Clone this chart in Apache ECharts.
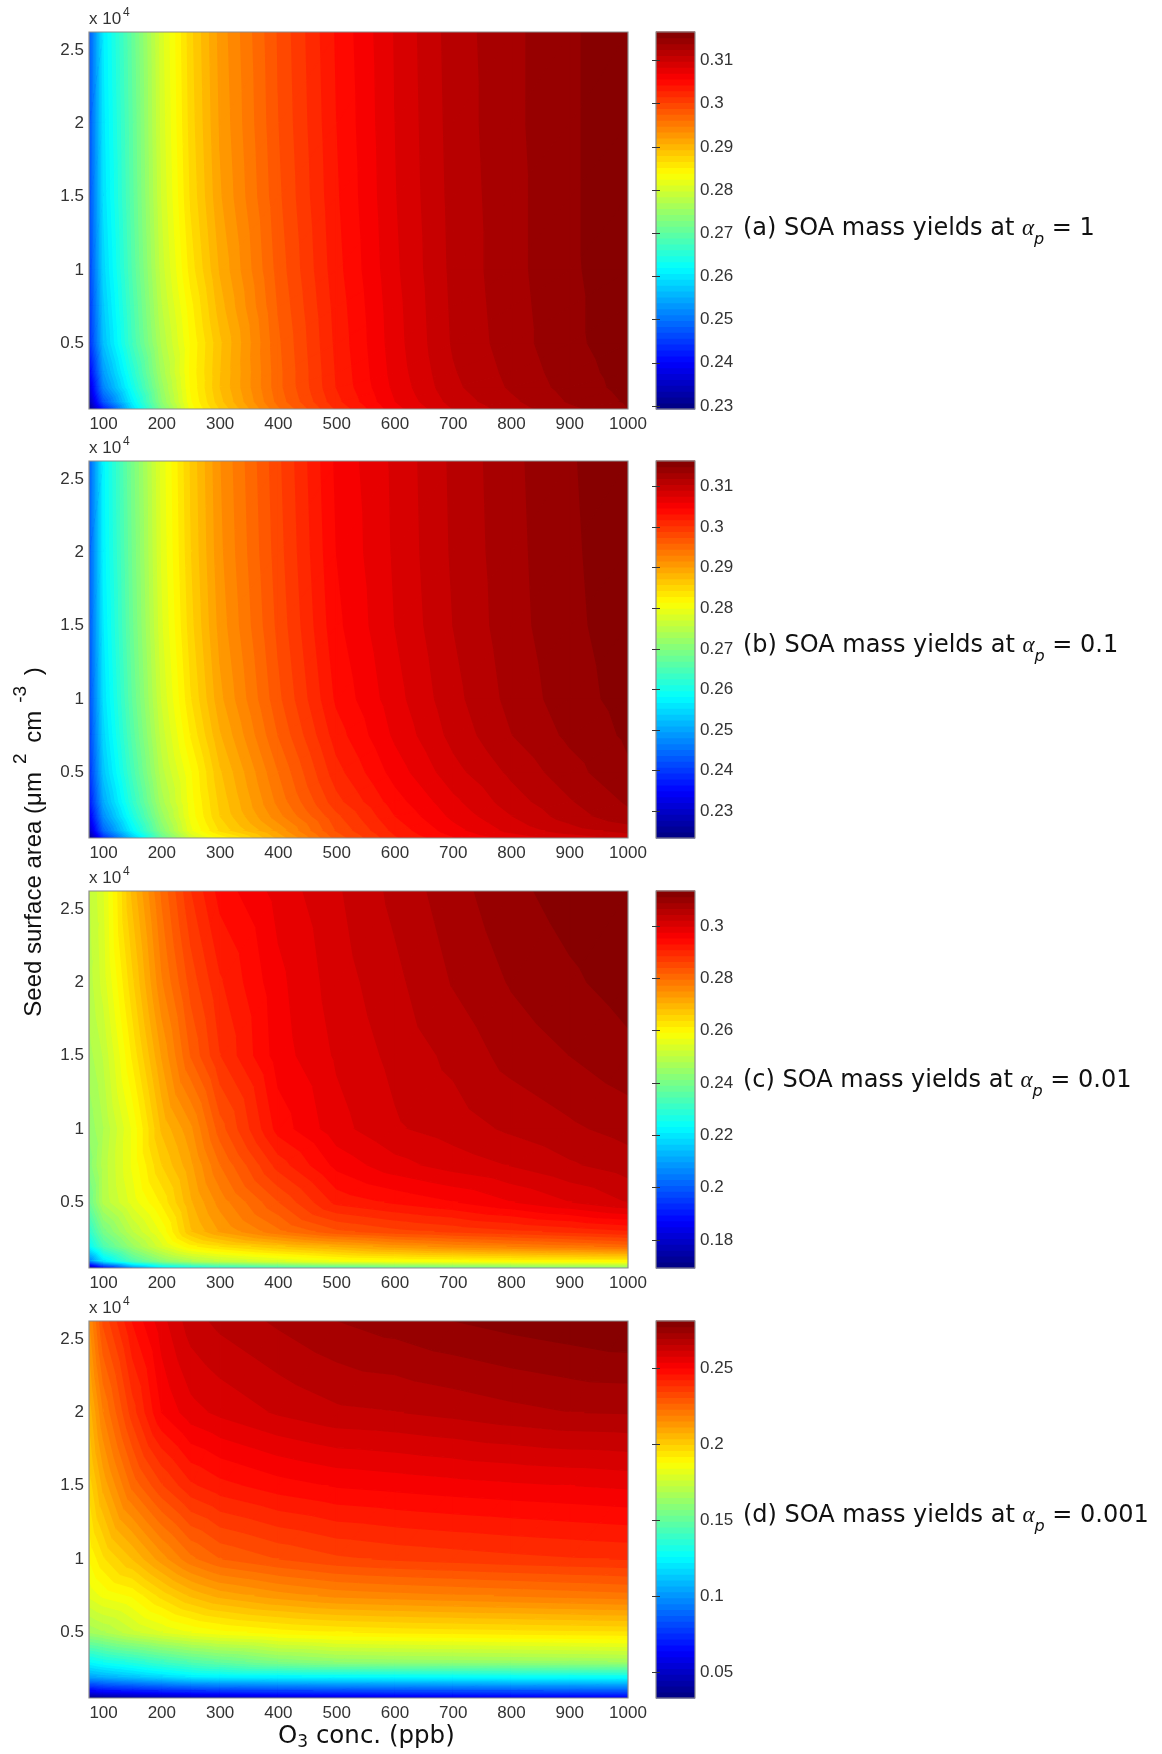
<!DOCTYPE html>
<html><head><meta charset="utf-8">
<style>html,body{margin:0;padding:0;background:#fff}#c{width:1162px;height:1754px;filter:blur(0.5px)}</style>
<script src="https://cdn.jsdelivr.net/npm/echarts@6/dist/echarts.min.js"></script>
</head><body><div id="c"></div>
<script>
// ---------- data ----------
const o3Levels   = [75,100,150,200,250,300,400,500,600,700,800,900,1000];
const seedLevels = [2.625,2,1.5,1,0.75,0.5,0.3,0.2,0.1,0.05];   // rows, top to bottom (x 10^4)
const o3Ticks    = [100,200,300,400,500,600,700,800,900,1000];
const seedTicks  = [0.5,1,1.5,2,2.5];

const yieldsA = [
 [.2470,.2605,.2705,.2805,.2875,.2925,.2990,.3045,.3085,.3118,.3135,.3150,.3162],
 [.2465,.2600,.2700,.2802,.2872,.2922,.2988,.3043,.3084,.3117,.3135,.3150,.3162],
 [.2460,.2595,.2697,.2798,.2868,.2918,.2985,.3041,.3083,.3116,.3134,.3150,.3162],
 [.2450,.2585,.2690,.2790,.2858,.2908,.2980,.3038,.3081,.3115,.3134,.3150,.3161],
 [.2440,.2575,.2682,.2782,.2847,.2900,.2976,.3035,.3079,.3114,.3133,.3149,.3161],
 [.2430,.2565,.2675,.2772,.2840,.2890,.2972,.3033,.3078,.3113,.3132,.3149,.3160],
 [.2390,.2535,.2650,.2760,.2842,.2892,.2970,.3031,.3076,.3110,.3129,.3146,.3158],
 [.2360,.2515,.2635,.2750,.2840,.2893,.2970,.3030,.3074,.3108,.3127,.3144,.3157],
 [.2330,.2470,.2610,.2740,.2836,.2888,.2966,.3025,.3070,.3103,.3122,.3140,.3154],
 [.2295,.2420,.2590,.2725,.2830,.2880,.2958,.3018,.3065,.3098,.3118,.3135,.3152]];
const yieldsB = [
 [.2430,.2575,.2690,.2790,.2860,.2915,.2985,.3050,.3079,.3108,.3130,.3147,.3158],
 [.2425,.2572,.2685,.2787,.2857,.2912,.2982,.3047,.3078,.3107,.3129,.3146,.3157],
 [.2420,.2565,.2680,.2782,.2852,.2907,.2978,.3043,.3076,.3105,.3128,.3145,.3156],
 [.2410,.2555,.2670,.2772,.2842,.2897,.2970,.3035,.3070,.3100,.3124,.3142,.3154],
 [.2400,.2545,.2660,.2762,.2830,.2885,.2960,.3025,.3064,.3095,.3119,.3137,.3151],
 [.2385,.2530,.2645,.2750,.2812,.2870,.2945,.3012,.3053,.3085,.3108,.3128,.3146],
 [.2360,.2505,.2625,.2735,.2808,.2862,.2935,.2998,.3040,.3072,.3098,.3118,.3136],
 [.2330,.2480,.2605,.2720,.2805,.2858,.2925,.2985,.3032,.3065,.3090,.3112,.3130],
 [.2290,.2440,.2575,.2700,.2795,.2845,.2905,.2975,.3022,.3055,.3080,.3098,.3110],
 [.2240,.2385,.2530,.2670,.2770,.2815,.2890,.2965,.3015,.3045,.3065,.3080,.3095]];
const yieldsC = [
 [.2500,.2545,.2690,.2800,.2885,.2940,.2985,.3018,.3050,.3080,.3105,.3122,.3134],
 [.2490,.2535,.2655,.2770,.2850,.2905,.2970,.3010,.3038,.3068,.3091,.3107,.3122],
 [.2470,.2505,.2620,.2730,.2820,.2885,.2965,.3002,.3028,.3050,.3075,.3089,.3105],
 [.2440,.2480,.2575,.2687,.2745,.2830,.2940,.2990,.3018,.3032,.3048,.3062,.3075],
 [.2420,.2490,.2575,.2660,.2722,.2795,.2895,.2960,.2990,.3008,.3022,.3040,.3055],
 [.2380,.2486,.2558,.2620,.2702,.2760,.2840,.2915,.2935,.2952,.2975,.2998,.3022],
 [.2290,.2400,.2500,.2575,.2680,.2730,.2790,.2835,.2855,.2868,.2880,.2892,.2905],
 [.2230,.2340,.2450,.2540,.2610,.2640,.2680,.2710,.2740,.2760,.2775,.2790,.2805],
 [.2050,.2200,.2340,.2430,.2480,.2510,.2545,.2575,.2585,.2592,.2598,.2603,.2610],
 [.1700,.1850,.2050,.2170,.2220,.2260,.2300,.2320,.2350,.2370,.2385,.2400,.2414]];
const yieldsD = [
 [.2139,.2313,.2462,.2561,.2636,.2665,.2700,.2731,.2750,.2770,.2785,.2797,.2809],
 [.2040,.2189,.2363,.2499,.2561,.2585,.2620,.2645,.2652,.2665,.2680,.2692,.2695],
 [.1966,.2085,.2239,.2338,.2412,.2445,.2480,.2502,.2512,.2522,.2530,.2537,.2545],
 [.1879,.1950,.2035,.2130,.2215,.2265,.2305,.2335,.2350,.2360,.2370,.2378,.2385],
 [.1810,.1850,.1885,.1970,.2040,.2085,.2130,.2160,.2172,.2182,.2192,.2202,.2212],
 [.1650,.1680,.1750,.1800,.1840,.1865,.1895,.1915,.1925,.1932,.1938,.1944,.1950],
 [.1259,.1300,.1350,.1410,.1460,.1500,.1570,.1610,.1620,.1625,.1632,.1640,.1650],
 [.1050,.1080,.1130,.1180,.1230,.1245,.1255,.1265,.1272,.1278,.1282,.1286,.1290],
 [.0620,.0660,.0690,.0720,.0745,.0765,.0785,.0800,.0810,.0820,.0830,.0835,.0840],
 [.0330,.0360,.0400,.0430,.0460,.0480,.0510,.0530,.0550,.0560,.0570,.0575,.0580]];

const rangeA = [.2293,.3166], rangeB = [.2234,.3163], rangeC = [.1693,.3134], rangeD = [.0329,.2809];
const barTicksA = [.23,.24,.25,.26,.27,.28,.29,.3,.31];
const barTicksB = [.23,.24,.25,.26,.27,.28,.29,.3,.31];
const barTicksC = [.18,.2,.22,.24,.26,.28,.3];
const barTicksD = [.05,.1,.15,.2,.25];
const panelNames = ['(a)','(b)','(c)','(d)'];
const alphaTexts = ['1','0.1','0.01','0.001'];
const xTitleParts = ['O','3',' conc. (ppb)'];
const yTitleParts = ['Seed surface area (\u03bcm','2',' cm','-3',' )'];

// ---------- layout ----------
const panels = [
 {z:yieldsA,r:rangeA,t:barTicksA,top:32},
 {z:yieldsB,r:rangeB,t:barTicksB,top:461},
 {z:yieldsC,r:rangeC,t:barTicksC,top:891},
 {z:yieldsD,r:rangeD,t:barTicksD,top:1321}];
const H=377, L=89, W=539, BL=656, BW=39, N=64;
const xMin=o3Levels[0], xMax=o3Levels[o3Levels.length-1];
const yMin=seedLevels[seedLevels.length-1], yMax=seedLevels[0];
const TICK_FONT='"Liberation Sans",Arial,sans-serif', TEXT_FONT='"DejaVu Sans",sans-serif';
const TICK_COL='#333333', BORDER='#8c8c8c';

function jet(i){
  const f=(i+0.5)/N, c=v=>Math.round(255*Math.max(0,Math.min(1,v)));
  return 'rgb('+c(1.5-Math.abs(4*f-3))+','+c(1.5-Math.abs(4*f-2))+','+c(1.5-Math.abs(4*f-1))+')';
}
function clip(poly,level,keepAbove){
  const out=[];
  for(let i=0;i<poly.length;i++){
    const a=poly[i],b=poly[(i+1)%poly.length];
    const ina=keepAbove?a[2]>=level:a[2]<=level, inb=keepAbove?b[2]>=level:b[2]<=level;
    if(ina) out.push(a);
    if(ina!==inb){const t=(level-a[2])/(b[2]-a[2]);out.push([a[0]+t*(b[0]-a[0]),a[1]+t*(b[1]-a[1]),level]);}
  }
  return out;
}
function contourItem(range){
  return function(params,api){
    const x0=api.value(0),y0=api.value(1),x1=api.value(2),y1=api.value(3);
    const a=[x0,y0,api.value(4)],b=[x1,y0,api.value(5)],c=[x1,y1,api.value(6)],d=[x0,y1,api.value(7)];
    const children=[], step=(range[1]-range[0])/N;
    [[a,b,c],[a,c,d]].forEach(tri=>{
      const zs=tri.map(p=>p[2]);
      const lo=Math.max(0,Math.floor((Math.min.apply(null,zs)-range[0])/step));
      const hi=Math.min(N-1,Math.floor((Math.max.apply(null,zs)-range[0])/step));
      for(let k=lo;k<=hi;k++){
        let p=tri;
        if(k>0) p=clip(p,range[0]+k*step,true);
        if(k<N-1&&p.length) p=clip(p,range[0]+(k+1)*step,false);
        if(p.length<3) continue;
        const col=jet(k);
        children.push({type:'polygon',silent:true,shape:{points:p.map(q=>api.coord([q[0],q[1]]))},
          style:{fill:col,stroke:col,lineWidth:1.3}});
      }
    });
    return {type:'group',children};
  };
}
function borderItem(params,api){
  const a=api.coord([api.value(0),api.value(1)]),b=api.coord([api.value(2),api.value(3)]);
  return {type:'rect',silent:true,shape:{x:a[0],y:b[1],width:b[0]-a[0],height:a[1]-b[1]},
    style:{fill:'none',stroke:BORDER,lineWidth:1.2}};
}
function barItem(params,api){
  const a=api.coord([0,api.value(0)]),b=api.coord([1,api.value(1)]);
  return {type:'rect',silent:true,shape:{x:a[0],y:b[1]-0.4,width:b[0]-a[0],height:a[1]-b[1]+0.8},
    style:{fill:jet(api.value(2))}};
}
function fmt(v){return String(+v.toFixed(3));}

const grid=[],xAxis=[],yAxis=[],series=[],graphic=[];
panels.forEach((p,n)=>{
  const g=grid.length, ax=xAxis.length, ay=yAxis.length;
  grid.push({left:L,top:p.top,width:W,height:H});
  xAxis.push({type:'value',gridIndex:g,min:xMin,max:xMax,axisLine:{show:false},axisTick:{show:false},splitLine:{show:false},
    axisLabel:{customValues:o3Ticks,formatter:fmt,margin:7,color:TICK_COL,fontFamily:TICK_FONT,fontSize:17}});
  yAxis.push({type:'value',gridIndex:g,min:yMin,max:yMax,axisLine:{show:false},axisTick:{show:false},splitLine:{show:false},
    axisLabel:{customValues:seedTicks,formatter:fmt,margin:5,color:TICK_COL,fontFamily:TICK_FONT,fontSize:17}});
  const cells=[];
  for(let r=0;r+1<seedLevels.length;r++) for(let c=0;c+1<o3Levels.length;c++){
    cells.push([o3Levels[c],seedLevels[r+1],o3Levels[c+1],seedLevels[r],
      p.z[r+1][c],p.z[r+1][c+1],p.z[r][c+1],p.z[r][c]]);
  }
  series.push({type:'custom',xAxisIndex:ax,yAxisIndex:ay,clip:true,silent:true,animation:false,
    renderItem:contourItem(p.r),data:cells,dimensions:['x0','y0','x1','y1','a','b','c','d'],encode:{x:[0,2],y:[1,3]}});
  series.push({type:'custom',xAxisIndex:ax,yAxisIndex:ay,clip:false,silent:true,animation:false,z:5,
    renderItem:borderItem,data:[[xMin,yMin,xMax,yMax]],encode:{x:[0,2],y:[1,3]}});

  // colour bar
  const gb=grid.length, bx=xAxis.length, byR=yAxis.length;
  grid.push({left:BL,top:p.top,width:BW,height:H});
  xAxis.push({type:'value',gridIndex:gb,min:0,max:1,show:false});
  const tickStyle={show:true,inside:true,length:4,lineStyle:{color:'#333',width:1},customValues:p.t};
  yAxis.push({type:'value',gridIndex:gb,position:'right',z:10,min:p.r[0],max:p.r[1],axisLine:{show:false},splitLine:{show:false},
    axisTick:tickStyle,
    axisLabel:{customValues:p.t,formatter:fmt,margin:5,padding:[3,0,0,0],color:TICK_COL,fontFamily:TICK_FONT,fontSize:17}});
  yAxis.push({type:'value',gridIndex:gb,position:'left',z:10,min:p.r[0],max:p.r[1],axisLine:{show:false},splitLine:{show:false},
    axisTick:tickStyle,axisLabel:{show:false}});
  const bands=[];
  const step=(p.r[1]-p.r[0])/N;
  for(let k=0;k<N;k++) bands.push([p.r[0]+k*step,p.r[0]+(k+1)*step,k]);
  series.push({type:'custom',xAxisIndex:bx,yAxisIndex:byR,silent:true,animation:false,clip:false,
    renderItem:barItem,data:bands,encode:{y:[0,1]}});
  series.push({type:'custom',xAxisIndex:bx,yAxisIndex:byR,silent:true,animation:false,clip:false,z:5,
    renderItem:borderItem,data:[[0,p.r[0],1,p.r[1]]],encode:{x:[0,2],y:[1,3]}});

  // x 10^4 note
  graphic.push({type:'text',left:89,top:p.top-21,silent:true,style:{text:'x 10',fill:TICK_COL,font:'17px '+TICK_FONT}});
  graphic.push({type:'text',left:123,top:p.top-25,silent:true,style:{text:'4',fill:TICK_COL,font:'12px '+TICK_FONT}});
});

const labelCentres=[228,645,1080,1515];
panelNames.forEach((nm,i)=>{
  graphic.push({type:'text',left:743,top:labelCentres[i]-11,silent:true,style:{
    text:'{t|'+nm+' SOA mass yields at }{i|\u03b1}{s|p}{t| = '+alphaTexts[i]+'}',
    fill:'#111',
    rich:{t:{font:'24px '+TEXT_FONT,fill:'#111',lineHeight:38},
          i:{font:'italic 23px "Liberation Serif",serif',fill:'#111',lineHeight:38},
          s:{font:'italic 16px '+TEXT_FONT,fill:'#111',verticalAlign:'bottom',lineHeight:22}}}});
});
graphic.push({type:'text',left:278,top:1720,silent:true,style:{
  text:'{t|'+xTitleParts[0]+'}{s|'+xTitleParts[1]+'}{t|'+xTitleParts[2]+'}',fill:'#111',
  rich:{t:{font:'24.5px '+TEXT_FONT,fill:'#111',lineHeight:34,padding:[4,0,0,0]},
        s:{font:'17px '+TEXT_FONT,fill:'#111',verticalAlign:'bottom',lineHeight:18}}}});
graphic.push({type:'text',x:34,y:842,rotation:Math.PI/2,silent:true,style:{
  text:'{t|'+yTitleParts[0]+'}{u|'+yTitleParts[1]+'}{t|'+yTitleParts[2]+'}{u|'+yTitleParts[3]+'}{t|'+yTitleParts[4]+'}',
  align:'center',verticalAlign:'middle',fill:'#111',
  rich:{t:{font:'24px '+TICK_FONT,fill:'#111',lineHeight:46},
        u:{font:'19px '+TICK_FONT,fill:'#111',verticalAlign:'top',lineHeight:26,padding:[0,4,0,8]}}}});

const chart=echarts.init(document.getElementById('c'),null,{renderer:'canvas',width:1162,height:1754});
chart.setOption({animation:false,backgroundColor:'#fff',tooltip:{show:false},grid,xAxis,yAxis,series,graphic});
</script></body></html>
